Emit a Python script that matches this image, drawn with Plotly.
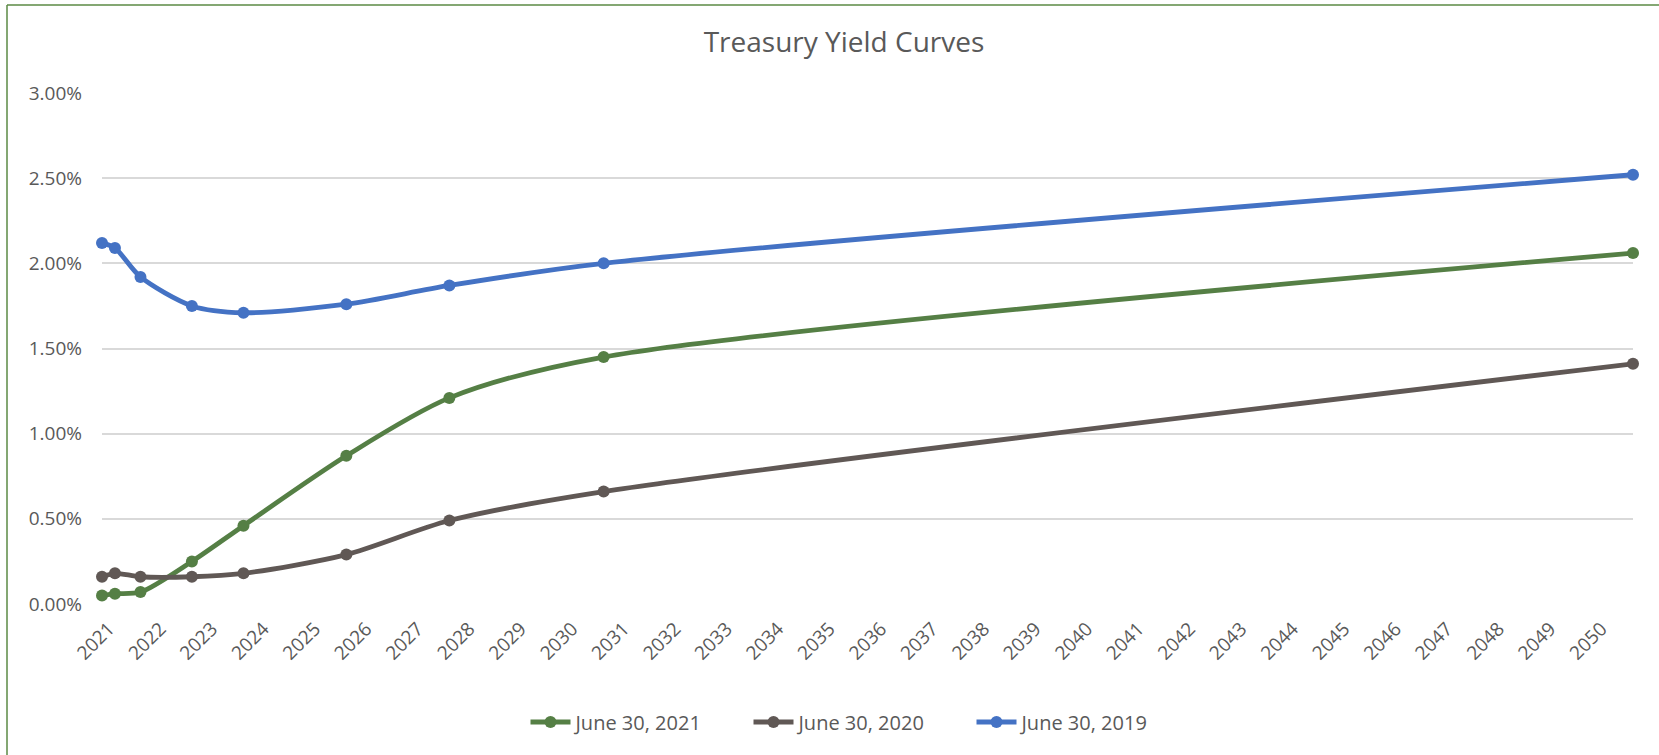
import plotly.graph_objects as go

# Maturity dates of the curve points (3M, 6M, 1Y, 2Y, 3Y, 5Y, 7Y, 10Y, 30Y from mid-2021)
maturity_dates = [
    "2021-09-30", "2021-12-31", "2022-06-30", "2023-06-30", "2024-06-30",
    "2026-06-30", "2028-06-30", "2031-06-30", "2051-06-30",
]

# Yields (as fractions) for each curve date
yields_2021 = [0.0005, 0.0006, 0.0007, 0.0025, 0.0046, 0.0087, 0.0121, 0.0145, 0.0206]
yields_2020 = [0.0016, 0.0018, 0.0016, 0.0016, 0.0018, 0.0029, 0.0049, 0.0066, 0.0141]
yields_2019 = [0.0212, 0.0209, 0.0192, 0.0175, 0.0171, 0.0176, 0.0187, 0.0200, 0.0252]

series_names = ["June 30, 2021", "June 30, 2020", "June 30, 2019"]
series_colors = ["#557F45", "#605855", "#4472C4"]

W, H = 1659, 755
L, R, T, B = 102, 26, 93, 151
plot_w = W - L - R
plot_h = H - T - B

fig = go.Figure()
for name, ys, color in zip(series_names, [yields_2021, yields_2020, yields_2019], series_colors):
    fig.add_trace(go.Scatter(
        x=maturity_dates, y=ys, name=name,
        mode="lines+markers",
        line=dict(color=color, width=4.8, shape="spline", smoothing=0.8),
        marker=dict(color=color, size=12),
        cliponaxis=False,
    ))

text_color = "#595959"
font_family = "Open Sans, Lato, sans-serif"


def px_to_paper_x(px):
    return (px - L) / plot_w


def px_to_paper_y(py):
    return (H - B - py) / plot_h


# outer chart border (left and top edges)
border_color = "#5B8A45"
fig.add_shape(type="line", xref="paper", yref="paper",
              x0=px_to_paper_x(7), x1=px_to_paper_x(7),
              y0=px_to_paper_y(5), y1=px_to_paper_y(H + 5),
              line=dict(color=border_color, width=1.5))
fig.add_shape(type="line", xref="paper", yref="paper",
              x0=px_to_paper_x(7), x1=px_to_paper_x(W + 5),
              y0=px_to_paper_y(5), y1=px_to_paper_y(5),
              line=dict(color=border_color, width=1.5))

fig.update_layout(
    width=W, height=H,
    margin=dict(l=L, r=R, t=T, b=B),
    paper_bgcolor="white", plot_bgcolor="white",
    font=dict(family=font_family, color=text_color, size=18),
    title=dict(text="Treasury Yield Curves", x=844 / W, xanchor="center",
               y=1 - 42 / H, yanchor="middle",
               font=dict(size=28, color=text_color, family=font_family)),
    showlegend=True,
    legend=dict(orientation="h", x=px_to_paper_x(860), xanchor="center",
                y=px_to_paper_y(722), yanchor="middle",
                font=dict(size=20, color=text_color), itemwidth=40,
                entrywidth=168, traceorder="normal"),
    xaxis=dict(
        type="date",
        range=[maturity_dates[0], maturity_dates[-1]],
        tick0=maturity_dates[0], dtick="M12", tickformat="%Y",
        tickangle=-45, showgrid=False, zeroline=False, showline=False,
        ticks="", ticklabelstandoff=9, ticklabelshift=7,
        tickfont=dict(size=19, color=text_color),
    ),
    yaxis=dict(
        range=[0, 0.03], dtick=0.005, tickformat=".2%",
        showgrid=True, gridcolor="#D9D9D9", gridwidth=2,
        zeroline=False, showline=False, ticks="",
        ticklabelstandoff=19,
        tickfont=dict(size=19, color=text_color),
    ),
)

fig.write_html("out.html")
